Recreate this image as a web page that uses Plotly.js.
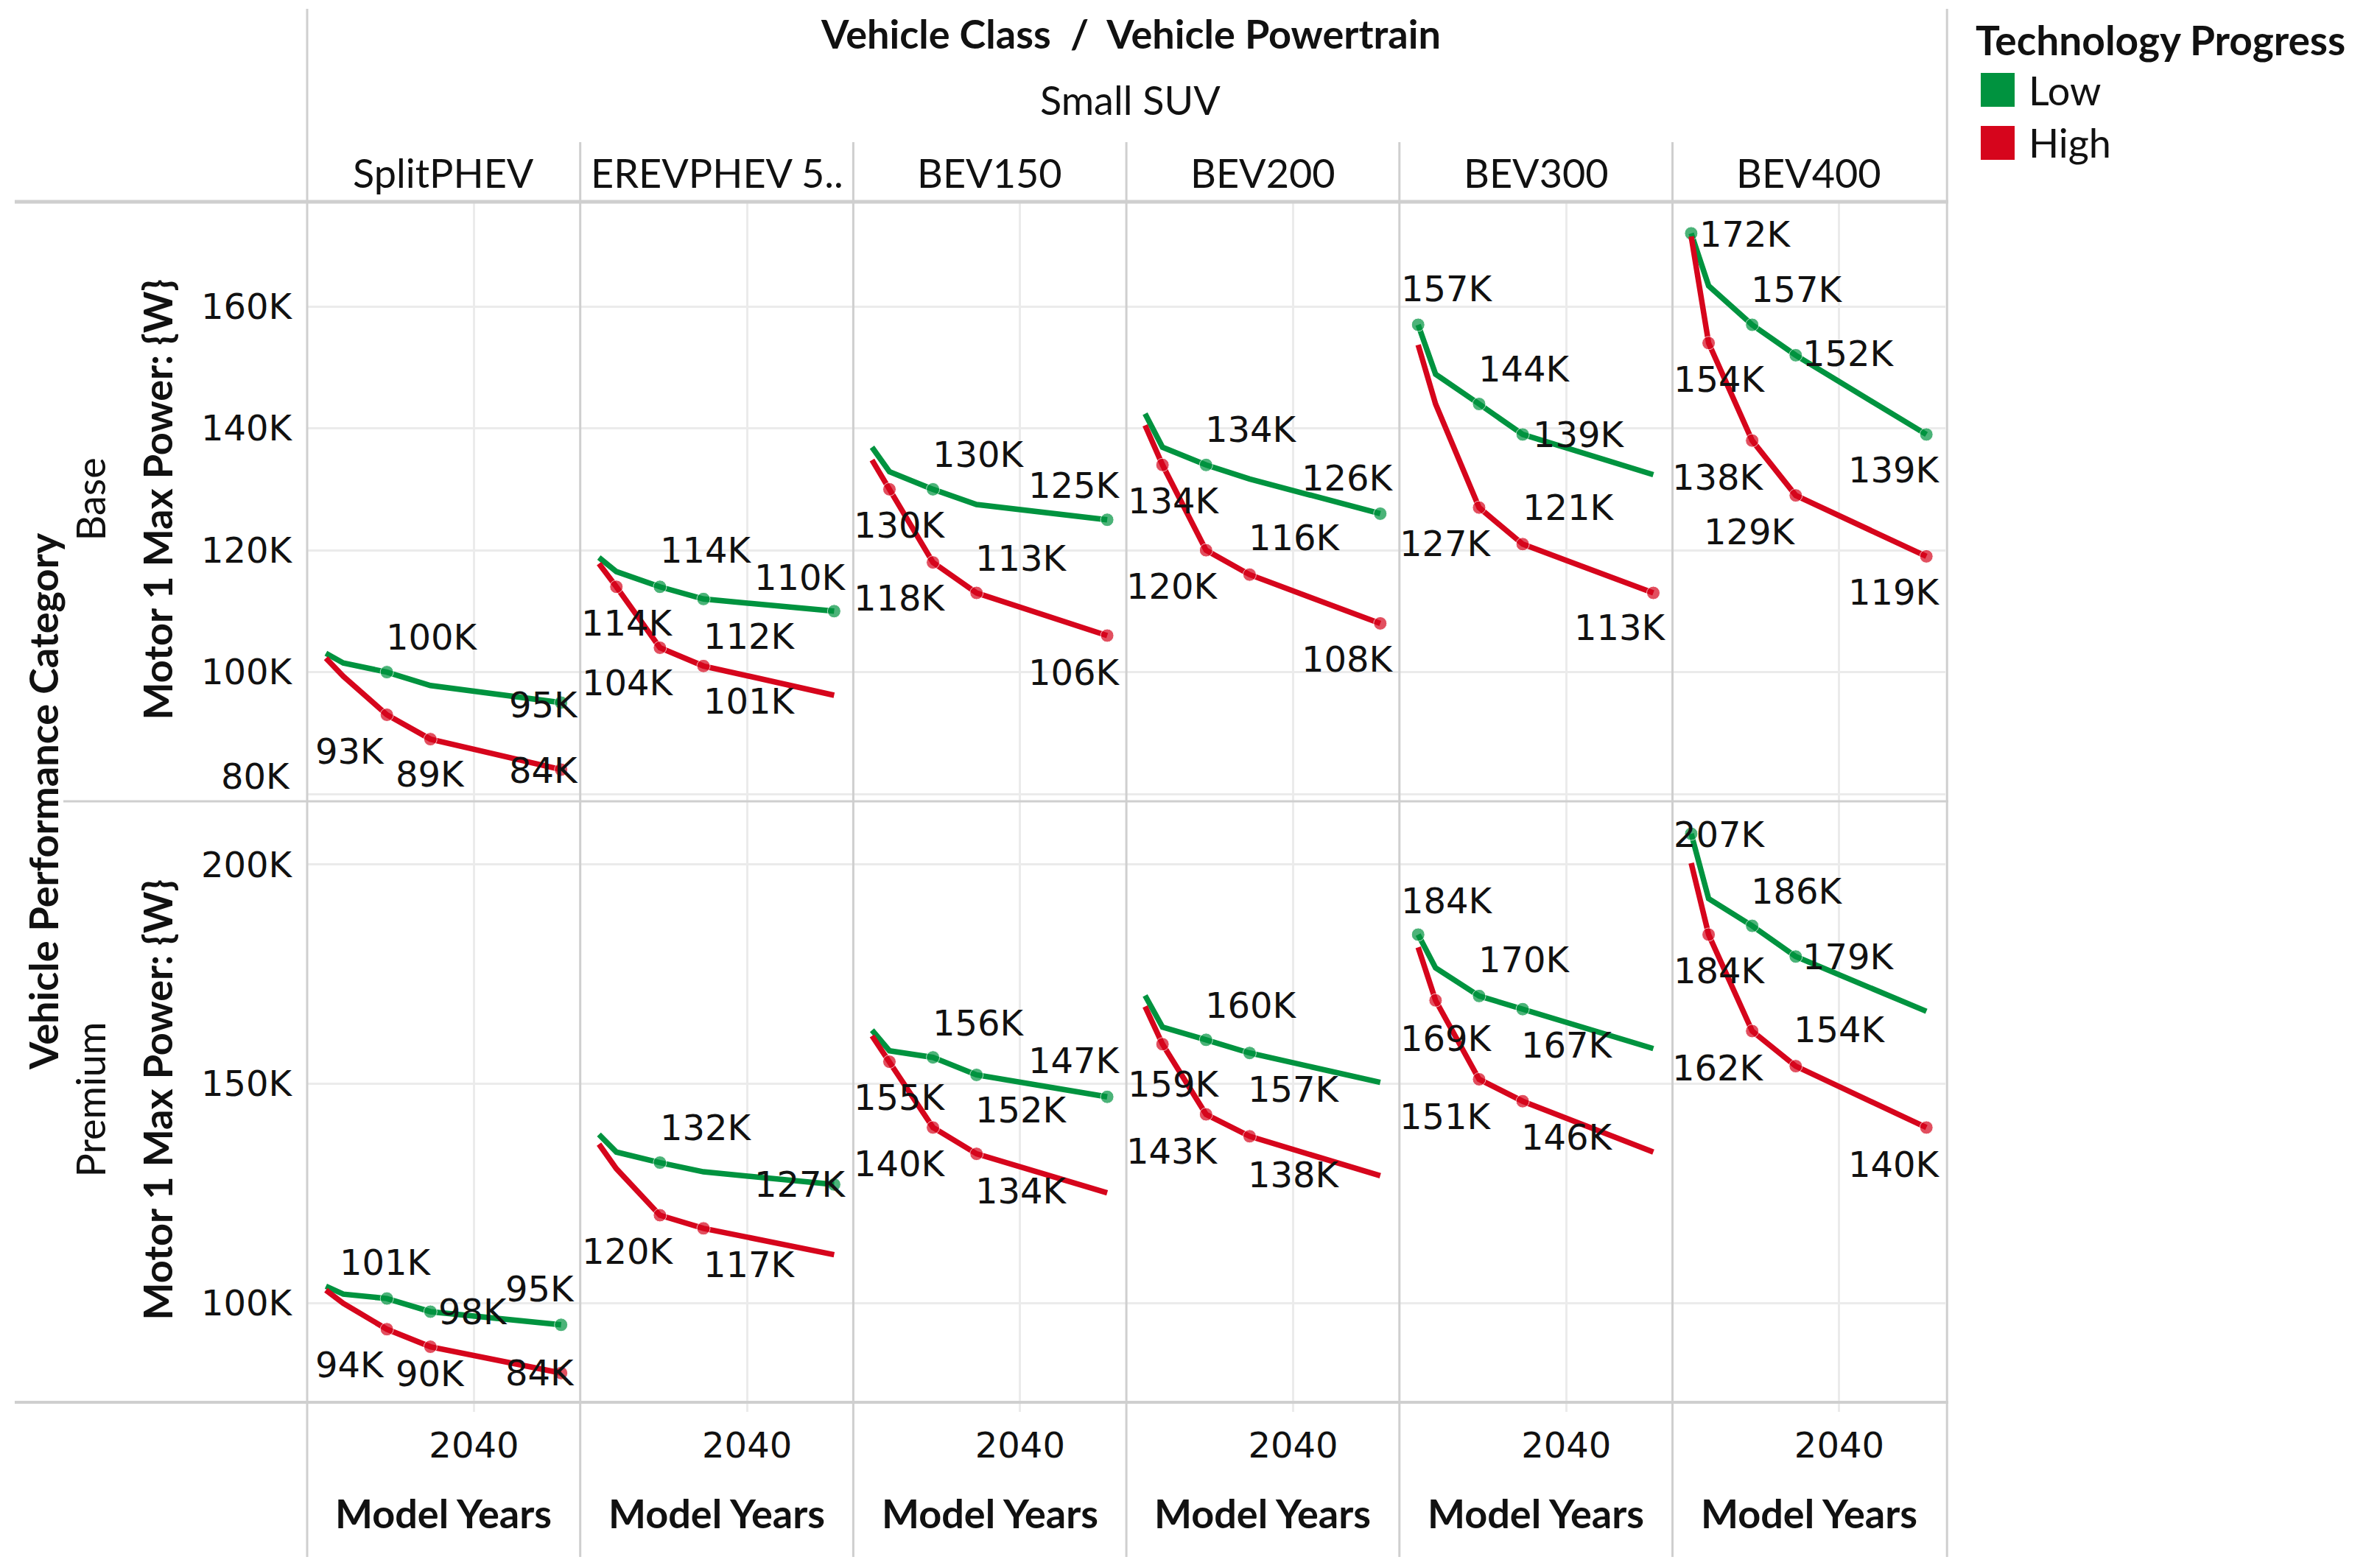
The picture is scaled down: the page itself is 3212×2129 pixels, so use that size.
<!DOCTYPE html>
<html>
<head>
<meta charset="utf-8">
<script src="https://cdn.plot.ly/plotly-3.0.1.min.js"></script>
<style>html,body{margin:0;padding:0;background:#fff;}#chart{width:3212px;height:2129px;}</style>
</head>
<body>
<div id="chart"></div>
<script>
// ---------------- DATA (Motor 1 Max Power, thousands of W) ----------------
const years = [2023, 2025, 2030, 2035, 2050];
const powertrains = ['SplitPHEV', 'EREVPHEV 5..', 'BEV150', 'BEV200', 'BEV300', 'BEV400'];
const categories = ['Base', 'Premium'];
const progressLevels = ['Low', 'High'];

const baseLow = [
  [103.1, 101.5, 100, 97.8, 95],
  [118.8, 116.5, 114, 112, 110],
  [136.9, 132.9, 130, 127.5, 125],
  [142.4, 136.9, 134, 131.7, 126],
  [157, 148.9, 144, 139, 132.4],
  [172, 163.4, 157, 152, 139]
];
const baseHigh = [
  [102.3, 99.3, 93, 89, 84],
  [117.8, 114, 104, 101, 96.2],
  [134.8, 130, 118, 113, 106],
  [140.5, 134, 120, 116, 108],
  [153.7, 144, 127, 121, 113],
  [171.5, 154, 138, 129, 119]
];
const premiumLow = [
  [103.8, 102.0, 101, 98, 95],
  [138.4, 134.4, 132, 129.9, 127],
  [162.2, 157.5, 156, 152, 147],
  [170.1, 162.9, 160, 157, 150.3],
  [184, 176.4, 170, 167, 158.0],
  [207, 192.2, 186, 179, 166.5]
];
const premiumHigh = [
  [102.9, 99.9, 94, 90, 84],
  [136.2, 130.6, 120, 117, 111.0],
  [160.9, 155, 140, 134, 125.1],
  [167.6, 159, 143, 138, 129.0],
  [181.1, 169, 151, 146, 134.4],
  [200.3, 184, 162, 154, 140]
];

const baseTicks = [80, 100, 120, 140, 160];
const premiumTicks = [100, 150, 200];
const yearTicks = [2040];

// ---------------- LABEL PLACEMENT (style only: pixel offsets of shown labels, null = no label) ----------------
const offBaseLow = [
  [null, null, [61, -48], null, [-24, 3]],
  [null, null, [63, -50], [62, 51], [-46, -46]],
  [null, null, [62, -47], null, [-45, -47]],
  [null, null, [61, -48], null, [-44, -48]],
  [[39, -49], null, [62, -48], [76, 0], null],
  [[74, 1], null, [61, -48], [72, -2], [-44, 48]]
];
const offBaseHigh = [
  [null, null, [-50, 49], [0, 47], [-24, 1]],
  [null, [15, 49], [-43, 48], [62, 48], null],
  [null, [14, 49], [-45, 48], [61, -47], [-45, 50]],
  [null, [15, 49], [-46, 49], [61, -50], [-44, 49]],
  [null, null, [-45, 49], [62, -50], [-45, 47]],
  [null, [15, 49], [-46, 50], [-62, 49], [-44, 49]]
];
const offPremiumLow = [
  [null, null, [-2, -49], [58, 0], [-29, -49]],
  [null, null, [63, -48], null, [-46, 0]],
  [null, null, [62, -47], [61, 48], [-45, -49]],
  [null, null, [61, -47], [60, 49], null],
  [[39, -46], null, [62, -49], [60, 49], null],
  [[39, 1], null, [61, -47], [72, 0], null]
];
const offPremiumHigh = [
  [null, null, [-50, 48], [0, 36], [-29, 0]],
  [null, null, [-43, 49], [62, 49], null],
  [null, [14, 48], [-45, 49], [61, 50], null],
  [null, [15, 54], [-46, 50], [60, 52], null],
  [null, [15, 52], [-45, 51], [60, 49], null],
  [null, [15, 49], [-46, 50], [60, -50], [-44, 50]]
];

// ---------------- LAYOUT GEOMETRY ----------------
const W = 3212, H = 2129;
const colEdges = [417, 787.7, 1158.4, 1529.1, 1899.8, 2270.5, 2641.2];
const rowEdges = [273, 1088, 1903];
const GREEN = '#00933F', RED = '#D6051C';
const GRID = '#ebebeb', SEP = '#cfcfcf';
const TXT = '#111111';
const NUMFONT = 'DejaVu Sans';
const HEADFONT = 'Lato';
const px = v => v / W;
const py = v => 1 - v / H;

const rows = [
  {low: baseLow, high: baseHigh, offLow: offBaseLow, offHigh: offBaseHigh, range: [78.8, 177.3], ticks: baseTicks},
  {low: premiumLow, high: premiumHigh, offLow: offPremiumLow, offHigh: offPremiumHigh, range: [77.5, 214.4], ticks: premiumTicks}
];

const traces = [];
const annotations = [];
const layout = {
  width: W, height: H,
  margin: {l: 0, r: 0, t: 0, b: 0, pad: 0},
  paper_bgcolor: '#ffffff', plot_bgcolor: '#ffffff',
  showlegend: false,
  font: {family: NUMFONT, color: TXT}
};

rows.forEach((row, r) => {
  for (let c = 0; c < 6; c++) {
    const i = r * 6 + c + 1;
    const xa = 'xaxis' + (i === 1 ? '' : i), ya = 'yaxis' + (i === 1 ? '' : i);
    const xr = 'x' + (i === 1 ? '' : i), yr = 'y' + (i === 1 ? '' : i);
    layout[xa] = {
      domain: [px(colEdges[c]), px(colEdges[c + 1])],
      anchor: yr, range: [2020.85, 2052.2],
      tickvals: yearTicks, ticktext: yearTicks.map(String),
      showgrid: true, gridcolor: GRID, gridwidth: 3,
      zeroline: false, showline: false,
      showticklabels: r === 1,
      ticks: r === 1 ? 'outside' : '', ticklen: 13, tickwidth: 3, tickcolor: GRID,
      ticklabelstandoff: 4,
      tickfont: {family: NUMFONT, size: 48, color: TXT},
      fixedrange: true
    };
    layout[ya] = {
      domain: [py(rowEdges[r + 1]), py(rowEdges[r])],
      anchor: xr, range: row.range,
      tickvals: row.ticks,
      ticktext: row.ticks.map(v => (r === 0 && v === 80) ? '' : v + 'K'),
      showgrid: true, gridcolor: GRID, gridwidth: 3,
      zeroline: false, showline: false,
      showticklabels: c === 0, ticks: '',
      ticklabelstandoff: 20,
      tickfont: {family: NUMFONT, size: 48, color: TXT},
      fixedrange: true
    };
    [[row.low[c], row.offLow[c], GREEN, progressLevels[0]], [row.high[c], row.offHigh[c], RED, progressLevels[1]]].forEach(([vals, offs, col, name]) => {
      traces.push({
        type: 'scatter', mode: 'lines+markers', name: name,
        x: years, y: vals, xaxis: xr, yaxis: yr,
        line: {color: col, width: 7.5},
        marker: {color: col, size: offs.map(o => o ? 18 : 0)},
        hoverinfo: 'skip'
      });
      vals.forEach((v, k) => {
        const o = offs[k];
        if (!o) return;
        annotations.push({
          xref: xr, yref: yr, x: years[k], y: v,
          text: Math.round(v) + 'K', showarrow: false,
          xanchor: 'center', yanchor: 'middle',
          xshift: o[0], yshift: -o[1],
          font: {family: NUMFONT, size: 48, color: TXT}
        });
      });
    });
  }
});

// 80K label shifted up inside the pane, as in the reference
annotations.push({
  xref: 'paper', yref: 'y', x: px(396), y: 80, xanchor: 'right', yanchor: 'middle',
  yshift: 24, text: '80K', showarrow: false,
  font: {family: NUMFONT, size: 48, color: TXT}
});

// Headers
function ann(text, x, y, size, opts) {
  annotations.push(Object.assign({
    xref: 'paper', yref: 'paper', x: px(x), y: py(y), text: text, showarrow: false,
    xanchor: 'center', yanchor: 'middle',
    font: {family: HEADFONT, size: size, color: TXT}
  }, opts || {}));
}
ann('<b>Vehicle Class  /  Vehicle Powertrain</b>', 1535, 46, 54);
ann('Small SUV', 1534, 135, 54);
powertrains.forEach((p, c) => {
  const cx = (colEdges[c] + colEdges[c + 1]) / 2;
  ann(p, cx, 234, 54);
  ann('<b>Model Years</b>', cx, 2054, 54);
});
ann('<b>Vehicle Performance Category</b>', 58, 1088, 54, {textangle: -90});
categories.forEach((cat, r) => {
  const cy = (rowEdges[r] + rowEdges[r + 1]) / 2;
  ann(cat, 122, cy - 2, 54, {textangle: -90});
  ann('<b>Motor 1 Max Power: {W}</b>', 213, cy - 2, 54, {textangle: -90});
});

// Legend
ann('<b>Technology Progress</b>', 2680, 54, 55, {xanchor: 'left'});
ann(progressLevels[0], 2752, 122, 54, {xanchor: 'left'});
ann(progressLevels[1], 2752, 193, 54, {xanchor: 'left'});

const shapes = [];
function line(x0, y0, x1, y1, w, col) {
  shapes.push({type: 'line', xref: 'paper', yref: 'paper', x0: px(x0), y0: py(y0), x1: px(x1), y1: py(y1),
    line: {color: col || SEP, width: w || 3}, layer: 'above'});
}
line(20, 274, 2645, 274, 5);
line(86, 1088, 2645, 1088, 3);
line(20, 1904, 2645, 1904, 4);
line(colEdges[0], 12, colEdges[0], 2114, 3);
line(colEdges[6] + 2, 12, colEdges[6] + 2, 2114, 3);
for (let c = 1; c < 6; c++) line(colEdges[c], 193, colEdges[c], 2114, 3);
shapes.push({type: 'rect', xref: 'paper', yref: 'paper', x0: px(2689), x1: px(2735), y0: py(145), y1: py(99),
  fillcolor: GREEN, line: {width: 0}});
shapes.push({type: 'rect', xref: 'paper', yref: 'paper', x0: px(2689), x1: px(2735), y0: py(217), y1: py(171),
  fillcolor: RED, line: {width: 0}});

layout.annotations = annotations;
layout.shapes = shapes;

Plotly.newPlot('chart', traces, layout, {displayModeBar: false, staticPlot: true});
</script>
</body>
</html>
